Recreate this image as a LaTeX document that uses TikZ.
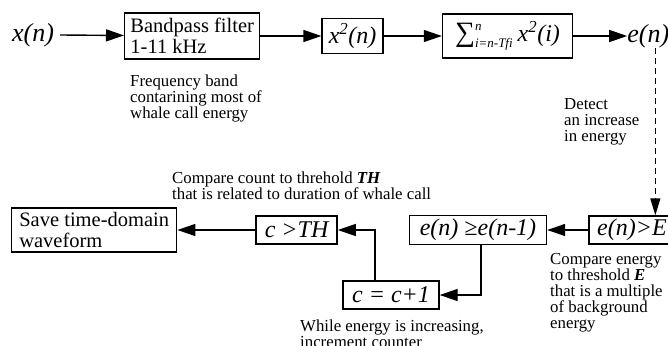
\documentclass[tikz,border=0pt]{standalone}
\usepackage{fontspec}
\setmainfont{Liberation Serif}
\usetikzlibrary{arrows.meta,positioning}
\tikzset{
  box/.style={
    rectangle,
    draw,
    line width=1.4pt,
    inner sep=3pt,
    align=left,
    font=\fontsize{20.5}{21}\selectfont
  },
  mbox/.style={box, align=center, font=\fontsize{24}{24}\selectfont\itshape},
  sig/.style={inner sep=0pt, font=\fontsize{26}{26}\selectfont\itshape},
  note/.style={inner sep=0pt, align=left, anchor=north west, font=\fontsize{16.8}{16}\selectfont},
  arrow/.style={-{Triangle[length=18pt,width=12pt]}, line width=1.4pt},
  dasharrow/.style={-{Triangle[length=17pt,width=10pt]}, line width=1.4pt, dash pattern=on 6pt off 4pt}
}

\begin{document}
\begin{tikzpicture}[x=1pt,y=-1pt]
  \useasboundingbox (0,0) rectangle (668,345);

  % top row
  \node[sig] (xin) at (33,35) {x(n)};
  \node[box, anchor=west, minimum width=135pt, minimum height=46pt] (bpf) at (124,36) {Bandpass filter\\1-11 kHz};
  \node[mbox, right=61pt of bpf, minimum width=61pt, minimum height=35pt] (sq) {x\textsuperscript{2}(n)};
  \node[mbox, right=58pt of sq, minimum width=130pt, minimum height=44pt] (sum)
    {{\fontsize{28}{28}\selectfont ∑}\rlap{\raisebox{11pt}{\fontsize{13}{13}\selectfont n}}\raisebox{-6pt}{\fontsize{13}{13}\selectfont i=n-Tfi}\hspace{5pt}x\textsuperscript{2}(i)};
  \node[sig, right=54pt of sum] (en) {e(n)};

  % bottom row
  \node[box, anchor=west, minimum width=165pt, minimum height=44pt] (save) at (11,230) {Save time-domain\\waveform};
  \node[mbox, right=78pt of save, minimum width=81pt, minimum height=28pt] (cth) {c >TH};
  \node[mbox, right=71pt of cth, minimum width=137pt, minimum height=29pt] (geq) {e(n) ≥e(n-1)};
  \node[mbox, right=41pt of geq, minimum width=86pt, minimum height=28pt] (gte) {e(n)>E};
  \node[mbox, minimum width=96pt, minimum height=28pt] (inc) at (391,295) {c = c+1};

  % notes
  \node[note] (nfreq) at (130,75) {Frequency band\\contarining most of\\whale call energy};
  \node[note] (ndet) at (564,98) {Detect\\an increase\\in energy};
  \node[note] (nth) at (172,172) {Compare count to threhold \textbf{\textit{TH}}\\that is related to duration of whale call};
  \node[note] (ncmp) at (550,253) {Compare energy\\to threshold \textbf{\textit{E}}\\that is a multiple\\of background\\energy};
  \node[note] (nwhile) at (300,320) {While energy is increasing,\\increment counter};

  \draw[arrow] ([xshift=6pt]xin.east) -- (bpf);
  \draw[arrow] (bpf) -- (sq);
  \draw[arrow] (sq) -- (sum);
  \draw[arrow] (sum) -- (en);
  \draw[dasharrow] ([xshift=7pt]en.south) -- ([xshift=7pt]en.south |- gte.north);
  \draw[arrow] (gte) -- (geq);
  \draw[arrow] ([xshift=3pt]geq.south) |- (inc.east);
  \draw[arrow] ([xshift=-16pt]inc.north) |- (cth.east);
  \draw[arrow] (cth) -- (save);
\end{tikzpicture}
\end{document}
